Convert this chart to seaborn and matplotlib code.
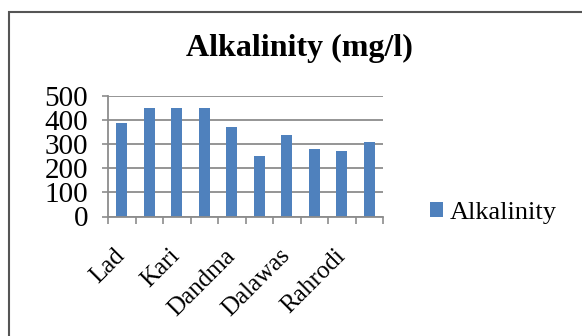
import matplotlib
matplotlib.use("Agg")
import matplotlib.pyplot as plt
import matplotlib.transforms as mtransforms
import seaborn as sns
from matplotlib.patches import Rectangle

# ---- data ----
site_ids = ["1", "2", "3", "4", "5", "6", "7", "8", "9", "10"]
tick_labels = ["Lad", "", "Kari", "", "Dandma", "", "Dalawas", "", "Rahrodi", ""]
alkalinity = [390, 450, 450, 450, 370, 250, 340, 280, 270, 310]
y_ticks = [0, 100, 200, 300, 400, 500]
series_name = "Alkalinity"
title = "Alkalinity (mg/l)"

sns.set_theme(style="white")
plt.rcParams["font.family"] = ["Liberation Serif", "DejaVu Serif"]
plt.rcParams["text.color"] = "black"
plt.rcParams["xtick.color"] = "black"
plt.rcParams["ytick.color"] = "black"

W, H = 582, 336
fig = plt.figure(figsize=(W / 100, H / 100), dpi=100)
ax = fig.add_axes([108 / W, 1 - 216.5 / H, (383 - 108) / W, (216.5 - 96) / H])

sns.barplot(x=site_ids, y=alkalinity, order=site_ids, color="#4F81BD",
            saturation=1, width=0.4, linewidth=0, ax=ax, label=series_name)

grid_c = "#8c8c8c"
ax.set_ylim(0, 500)
ax.set_xlim(-0.5, len(site_ids) - 0.5)
ax.set_yticks(y_ticks)
ax.set_yticklabels([str(v) for v in y_ticks], fontsize=21)
ax.yaxis.grid(True, color=grid_c, linewidth=1.3)
ax.set_axisbelow(True)
ax.set_xlabel("")
ax.set_ylabel("")

# x ticks at category boundaries (Excel style), labels at categories
ax.set_xticks([i - 0.5 for i in range(len(site_ids) + 1)], minor=False)
ax.set_xticklabels([])
ax.set_xticks(range(len(site_ids)), minor=True)
ax.set_xticklabels(tick_labels, minor=True, rotation=45, ha="right",
                   va="center", rotation_mode="anchor", fontsize=18)
shift = mtransforms.ScaledTranslation(4 / 100, 0, fig.dpi_scale_trans)
for lbl in ax.get_xticklabels(minor=True):
    lbl.set_transform(lbl.get_transform() + shift)
ax.tick_params(axis="x", which="major", length=5, width=1.2, color=grid_c,
               direction="out", bottom=True)
ax.tick_params(axis="x", which="minor", length=0, pad=26)
ax.tick_params(axis="y", length=4.3, width=1.2, color=grid_c, direction="out",
               left=True, pad=10, labelcolor="black")

for s in ["top", "right"]:
    ax.spines[s].set_visible(False)
for s in ["left", "bottom"]:
    ax.spines[s].set_color(grid_c)
    ax.spines[s].set_linewidth(1.3)

fig.suptitle(title, x=299 / W, y=1 - 48 / H, va="center", fontsize=23,
             fontweight="bold", color="black")

handles, labels = ax.get_legend_handles_labels()
leg = ax.legend(handles, labels, loc="center left",
                bbox_to_anchor=(430 / W, 1 - 213 / H),
                bbox_transform=fig.transFigure, frameon=False, fontsize=19,
                handlelength=0.5, handleheight=0.5, handletextpad=0.25,
                borderpad=0, borderaxespad=0)
for t in leg.get_texts():
    t.set_color("black")

fig.patches.append(Rectangle((9.3 / W, -0.1), 1.2, 1.1 - 12 / H,
                             transform=fig.transFigure, fill=False,
                             edgecolor="#555555", linewidth=1.5))

fig.savefig("out.png", dpi=100)
